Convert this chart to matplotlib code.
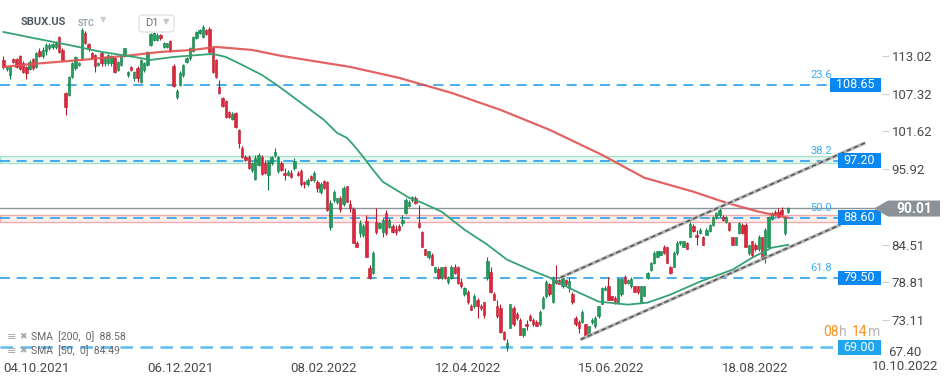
import matplotlib.pyplot as plt
import matplotlib.transforms as mtransforms
from matplotlib.patches import Rectangle, Polygon, FancyBboxPatch

plt.rcParams['font.family'] = ['Roboto', 'DejaVu Sans']

# daily candles SBUX.US, 20.09.2021 .. 01.09.2022
opens = [112.4, 111.1, 110.2, 112.6, 112.6, 113.0, 112.0, 111.4, 111.1, 112.6,
         111.4, 113.8, 113.0, 113.8, 114.2, 114.4, 114.4, 115.9, 113.9, 107.4,
         107.1, 109.9, 111.2, 111.7, 112.7, 116.5, 114.8, 113.5, 113.2, 111.7,
         113.5, 112.0, 112.0, 112.0, 112.7, 110.9, 111.7, 113.0, 110.2, 111.4,
         109.7, 111.2, 109.1, 110.9, 111.7, 114.7, 115.4, 115.4, 116.2, 114.4,
         114.4, 115.3, 111.5, 106.8, 108.6, 110.2, 112.1, 112.7, 113.8, 115.7,
         116.5, 115.9, 116.9, 117.1, 114.2, 112.4, 108.3, 106.7, 106.2, 104.6,
         103.5, 104.4, 101.9, 99.1, 97.8, 97.8, 95.8, 94.5, 96.6, 97.8,
         96.9, 95.1, 96.9, 98.1, 95.7, 96.9, 95.4, 95.1, 95.4, 96.1,
         95.4, 95.7, 94.0, 93.6, 94.9, 94.3, 94.0, 92.4, 94.2, 94.0,
         87.2, 91.3, 91.0, 91.5, 90.6, 93.3, 90.7, 89.9, 84.8, 86.3,
         86.0, 88.1, 81.0, 80.3, 88.0, 87.1, 86.5, 89.3, 87.2, 87.4,
         86.9, 87.4, 87.8, 89.3, 90.4, 91.2, 91.5, 87.8, 86.5, 83.8,
         82.6, 83.0, 80.4, 80.9, 79.7, 81.1, 78.9, 79.5, 81.2, 81.1,
         78.9, 77.0, 77.4, 75.3, 75.2, 76.1, 75.2, 75.8, 79.5, 80.4,
         77.1, 75.3, 74.9, 71.4, 69.1, 72.0, 75.0, 74.0, 73.2, 70.8,
         72.6, 73.8, 73.1, 72.9, 72.5, 75.0, 76.7, 78.6, 75.9, 79.2,
         79.2, 78.2, 79.2, 78.0, 77.1, 73.5, 72.8, 72.9, 72.5, 70.8,
         72.8, 72.2, 73.7, 75.6, 77.7, 78.3, 76.7, 76.5, 75.8, 77.0,
         79.7, 78.8, 78.3, 78.2, 78.2, 75.9, 76.8, 79.5, 80.7, 81.8,
         82.7, 83.0, 84.2, 84.1, 81.2, 81.2, 83.2, 84.7, 84.2, 84.8,
         85.7, 87.4, 86.0, 86.3, 85.7, 86.0, 86.6, 87.5, 88.6, 89.0,
         88.7, 88.0, 87.8, 85.6, 84.5, 86.3, 87.5, 87.5, 83.2, 85.0,
         84.5, 83.8, 85.6, 82.6, 84.2, 88.4, 89.5, 89.5, 89.8, 86.3,
         89.5]
highs = [113.0, 111.5, 111.5, 112.7, 112.7, 113.2, 112.3, 111.5, 112.4, 112.7,
         113.6, 114.2, 114.4, 115.0, 115.0, 115.0, 115.3, 116.0, 114.2, 107.6,
         110.0, 112.1, 113.0, 112.1, 117.2, 116.8, 115.0, 113.6, 113.3, 112.1,
         113.6, 113.0, 113.3, 113.2, 112.9, 112.3, 113.2, 114.2, 110.7, 111.5,
         110.7, 111.5, 112.6, 112.1, 113.8, 116.5, 116.6, 116.5, 116.3, 115.1,
         115.0, 115.4, 111.8, 108.0, 110.8, 111.8, 112.9, 114.4, 116.0, 116.8,
         117.1, 117.7, 117.1, 117.4, 114.4, 112.6, 109.4, 106.8, 106.4, 104.7,
         104.6, 104.6, 102.0, 99.4, 98.0, 98.0, 97.0, 98.1, 98.4, 98.1,
         97.3, 97.2, 97.9, 99.1, 97.9, 97.1, 96.1, 95.8, 95.8, 97.6,
         95.7, 95.9, 94.2, 94.6, 95.1, 95.6, 94.3, 94.0, 94.3, 94.2,
         91.3, 92.8, 91.6, 91.9, 93.3, 93.4, 91.3, 90.2, 85.0, 88.3,
         87.6, 89.0, 81.5, 83.5, 90.1, 88.0, 88.6, 89.8, 88.5, 87.7,
         87.5, 87.7, 89.0, 91.5, 91.2, 91.9, 91.8, 90.5, 86.6, 83.9,
         83.6, 83.3, 81.2, 81.1, 81.2, 81.3, 79.8, 81.5, 81.6, 81.3,
         79.5, 78.1, 77.7, 75.5, 77.0, 76.4, 75.5, 75.9, 82.7, 81.1,
         77.3, 76.2, 75.5, 71.5, 70.2, 75.6, 75.3, 74.4, 73.4, 71.9,
         73.2, 74.0, 73.4, 73.1, 74.6, 76.7, 79.2, 78.8, 79.8, 81.4,
         79.4, 79.8, 79.4, 79.5, 77.3, 73.7, 73.2, 74.6, 72.6, 72.3,
         73.4, 73.7, 75.3, 78.1, 78.2, 79.7, 76.8, 76.7, 79.5, 79.5,
         80.0, 79.4, 79.6, 78.3, 78.3, 78.3, 78.3, 80.4, 81.9, 83.5,
         83.6, 83.6, 84.4, 84.2, 81.3, 83.5, 85.0, 85.1, 85.1, 84.9,
         87.9, 87.6, 86.8, 87.0, 85.8, 87.0, 87.6, 88.9, 89.4, 90.1,
         89.0, 88.9, 88.0, 85.7, 85.7, 88.0, 87.8, 87.8, 84.5, 85.1,
         84.7, 85.9, 85.7, 87.1, 88.9, 89.5, 89.7, 90.1, 90.2, 88.9,
         90.2]
lows = [111.1, 110.8, 109.6, 112.0, 111.2, 110.9, 110.5, 109.6, 110.9, 110.9,
        111.2, 112.9, 112.7, 113.2, 113.9, 114.1, 114.1, 113.5, 112.4, 104.1,
        107.0, 109.7, 110.9, 111.5, 112.4, 114.8, 113.8, 112.6, 110.6, 111.5,
        111.5, 111.5, 111.7, 111.5, 110.5, 110.8, 111.5, 112.9, 109.9, 110.8,
        109.2, 109.1, 108.9, 110.6, 111.5, 114.5, 115.3, 115.3, 115.4, 114.2,
        114.2, 113.6, 108.3, 106.5, 108.4, 109.9, 111.9, 112.4, 113.6, 115.6,
        116.3, 115.7, 116.2, 113.5, 110.5, 109.7, 107.3, 105.3, 103.7, 103.7,
        103.3, 102.2, 99.1, 97.6, 97.2, 96.0, 95.5, 94.3, 96.4, 95.1,
        95.2, 92.8, 96.6, 97.8, 95.4, 95.6, 94.3, 94.9, 94.6, 95.8,
        94.9, 93.4, 93.1, 93.4, 94.2, 94.0, 92.5, 92.1, 92.9, 89.6,
        86.8, 91.0, 90.7, 89.5, 90.4, 90.9, 89.5, 84.7, 84.2, 85.7,
        85.7, 82.6, 79.4, 80.1, 86.1, 86.9, 85.7, 86.0, 87.0, 86.3,
        85.9, 86.6, 87.4, 89.1, 90.2, 90.9, 90.7, 87.1, 84.2, 82.9,
        82.3, 81.4, 80.2, 79.4, 79.4, 79.4, 78.6, 79.3, 80.1, 78.6,
        77.9, 76.8, 75.6, 74.6, 74.9, 73.5, 74.6, 73.4, 79.2, 77.2,
        76.1, 73.5, 71.2, 70.1, 68.4, 71.9, 72.2, 73.2, 70.8, 70.6,
        71.7, 73.0, 72.3, 72.2, 72.3, 74.8, 76.5, 76.8, 75.7, 78.5,
        78.5, 78.0, 78.3, 77.4, 75.6, 72.3, 71.2, 72.7, 70.6, 70.6,
        72.6, 71.9, 73.5, 75.5, 77.6, 76.1, 76.1, 75.6, 75.6, 76.8,
        78.6, 78.6, 78.0, 77.3, 77.1, 75.8, 76.7, 79.4, 80.6, 81.6,
        82.6, 82.9, 83.1, 81.7, 80.1, 81.1, 83.0, 84.5, 84.1, 83.8,
        85.6, 86.5, 84.4, 86.2, 84.4, 85.9, 86.5, 87.4, 88.4, 88.7,
        88.1, 87.8, 86.6, 84.4, 84.4, 86.2, 86.2, 84.1, 83.0, 82.7,
        83.6, 83.6, 82.4, 81.8, 84.0, 88.3, 88.8, 88.6, 88.8, 85.9,
        89.3]
closes = [111.4, 111.4, 111.4, 112.1, 111.4, 111.1, 110.6, 110.5, 112.1, 111.2,
          113.5, 113.0, 113.9, 114.7, 114.7, 114.8, 115.0, 113.6, 112.4, 105.3,
          109.9, 112.0, 112.9, 112.0, 116.9, 115.0, 114.1, 112.7, 111.5, 112.0,
          112.0, 112.9, 113.2, 113.0, 110.6, 112.1, 113.0, 114.2, 110.6, 110.9,
          110.6, 109.7, 112.4, 112.0, 113.6, 116.3, 116.5, 116.2, 115.7, 115.0,
          115.0, 113.8, 108.5, 107.7, 110.5, 111.7, 112.7, 114.2, 115.9, 116.6,
          116.9, 117.4, 116.3, 113.6, 110.6, 109.9, 107.4, 105.5, 103.8, 103.8,
          104.3, 102.3, 99.9, 97.8, 97.3, 96.1, 96.9, 97.6, 98.1, 95.2,
          95.4, 97.0, 97.8, 98.5, 97.8, 95.8, 95.1, 95.5, 94.8, 97.2,
          95.1, 93.6, 93.6, 94.3, 94.3, 95.4, 93.1, 93.6, 93.1, 89.8,
          90.8, 92.5, 91.5, 89.9, 93.1, 91.0, 90.1, 84.8, 84.2, 87.8,
          87.4, 82.7, 79.5, 83.3, 86.5, 87.8, 88.3, 86.3, 88.3, 86.5,
          86.5, 86.8, 88.3, 91.3, 91.0, 91.7, 90.8, 87.2, 84.2, 83.0,
          83.5, 81.5, 81.1, 79.5, 81.1, 79.5, 79.7, 81.2, 80.3, 78.8,
          78.2, 78.0, 75.8, 74.7, 76.7, 75.2, 74.9, 73.9, 82.0, 77.3,
          76.2, 73.7, 71.4, 70.2, 69.7, 75.5, 72.5, 73.5, 70.9, 71.9,
          72.2, 73.1, 72.5, 72.3, 74.4, 76.5, 78.9, 77.0, 79.5, 78.8,
          78.6, 79.5, 78.5, 79.1, 75.8, 72.5, 72.0, 74.4, 70.6, 72.2,
          73.2, 73.5, 75.2, 77.9, 78.0, 76.2, 76.2, 75.8, 79.4, 79.4,
          78.8, 79.2, 79.4, 77.4, 77.3, 78.2, 78.2, 80.3, 81.8, 83.3,
          83.5, 83.5, 83.2, 81.8, 80.3, 83.3, 84.8, 85.0, 85.0, 83.9,
          87.7, 86.6, 85.7, 86.8, 84.5, 86.8, 87.5, 88.7, 89.3, 89.8,
          88.3, 88.7, 86.8, 84.5, 85.6, 87.8, 86.3, 84.2, 84.4, 82.9,
          83.8, 85.7, 82.6, 86.8, 88.7, 89.3, 89.0, 88.7, 89.2, 88.6,
          90.0]

# moving averages (read at candle positions)
sma200_idx = [0, 9, 24, 40, 48, 58, 65, 76, 85, 106, 121, 137, 152, 167, 183, 196, 211, 221, 231, 240]
sma200_val = [111.36, 111.81, 112.41, 113.17, 113.62, 113.92, 114.37, 113.92, 113.02, 111.36,
              109.70, 107.44, 104.87, 101.86, 98.09, 94.62, 92.51, 90.85, 89.49, 88.58]
sma50_idx = [0, 9, 20, 30, 40, 45, 52, 60, 64, 68, 73, 79, 84, 91, 98, 102, 105, 107, 110, 113,
             116, 121, 124, 128, 134, 141, 148, 154, 161, 167, 174, 182, 191, 197, 204, 213, 223,
             229, 235, 240]
sma50_val = [116.63, 115.73, 114.67, 113.62, 112.86, 112.41, 112.86, 113.17, 113.32, 112.86,
             111.66, 110.15, 108.49, 105.93, 103.36, 101.40, 100.65, 99.59, 97.78, 95.82,
             94.01, 92.51, 91.60, 90.85, 89.49, 86.78, 84.51, 82.25, 80.74, 79.54,
             77.73, 75.92, 75.46, 75.76, 76.97, 78.93, 80.74, 82.55, 84.06, 84.49]

# fibonacci levels
fib_prices = [108.65, 97.20, 88.60, 79.50, 69.00]
fib_pcts = ['23.6', '38.2', '50.0', '61.8', '']
last_price = 90.01

# trend channel (start/end candle index and price)
chan_upper_idx = [170.3, 263.6]
chan_upper_val = [79.54, 99.90]
chan_lower_idx = [176.5, 256.0]
chan_lower_val = [70.19, 87.53]

date_pos = [10, 54, 98, 142, 186, 230]
date_labels = ['04.10.2021', '06.12.2021', '08.02.2022', '12.04.2022', '15.06.2022', '18.08.2022']
ytick_vals = [113.02, 107.32, 101.62, 95.92, 84.51, 78.81, 73.11]

W, H = 949, 384
fig = plt.figure(figsize=(W / 100, H / 100), dpi=100)
ax = fig.add_axes([0, 26 / H, 882 / W, 358 / H])
ax.set_xlim(-1.07, 268.7)
ax.set_ylim(67.40, 121.46)
for s in ax.spines.values():
    s.set_visible(False)

tr = mtransforms.blended_transform_factory(ax.transAxes, ax.transData)


def px(x, y):
    return x / W, 1 - y / H


# bands around 38.2 and 50.0
ax.add_patch(Rectangle((0, 96.9), 0.953, 0.95, transform=tr, fc='#e8f8f1', ec='#a6e2ca', lw=1, zorder=1))
ax.add_patch(Rectangle((0, 87.9), 0.953, 1.05, transform=tr, fc='#fdeeee', ec='#f2aaaa', lw=1, zorder=1))

# current price line
ax.axhline(last_price, color='#8d9499', lw=1, zorder=2)

# fib lines
for p, pct in zip(fib_prices, fib_pcts):
    if pct:
        ax.axhline(p, xmax=0.95, color='#2a9fea', lw=1.2, ls=(0, (6, 4)), zorder=2)
        ax.annotate(pct, xy=(0.931, p), xycoords=tr, xytext=(0, 7), textcoords='offset points',
                    ha='center', va='center', fontsize=8, color='#3aaaf0')
    else:
        ax.axhline(p, xmax=0.95, color='#5cbcf2', lw=1.8, ls=(0, (5, 3)), zorder=2)

# candles
for i in range(len(opens)):
    o, h, l, c = opens[i], highs[i], lows[i], closes[i]
    up = c >= o
    fc = '#1f9d5c' if up else '#e0263a'
    ec = '#117c45' if up else '#b5192b'
    ax.vlines(i, l, h, color=ec, lw=0.8, zorder=3)
    ax.bar(i, max(abs(c - o), 0.12), bottom=min(o, c), width=0.72, color=fc,
           edgecolor=ec, linewidth=0.4, zorder=4)

# moving averages
ax.plot(sma200_idx, sma200_val, color='#e05252', lw=1.6, alpha=0.9, zorder=5, solid_capstyle='round')
ax.plot(sma50_idx, sma50_val, color='#35a274', lw=1.3, zorder=5)

# channel
for xs, ys in [(chan_upper_idx, chan_upper_val), (chan_lower_idx, chan_lower_val)]:
    ax.plot(xs, ys, color='#b8b8b8', lw=2.4, zorder=6, solid_capstyle='butt')
    ax.plot(xs, ys, color='#555555', lw=1.1, ls=(0, (3, 2)), zorder=7)

# price boxes
for p, col in zip(fib_prices, ['#0a88f2', '#0a88f2', '#0a88f2', '#0a88f2', '#1ea5ec']):
    txt = f'{p:.2f}'
    wpx = 51 if len(txt) == 6 else 43
    ax.add_patch(Rectangle((881 / 882 - wpx / 882, p - 1.1), wpx / 882, 2.2, transform=tr,
                           fc=col, ec='none', zorder=8, clip_on=False))
    ax.text(881 / 882 - wpx / 1764, p, txt, transform=tr, ha='center', va='center',
            color='white', fontsize=9, zorder=9)

# last price arrow box
yp = 56 + (113.02 - last_price) * 6.63
poly = Polygon([px(874, yp), px(888, yp - 8), px(940, yp - 8), px(940, yp + 8), px(888, yp + 8)],
               closed=True, transform=fig.transFigure, fc='#8a9297', ec='none', zorder=10)
fig.patches.append(poly)
fig.text(*px(914, yp), f'{last_price:.2f}', ha='center', va='center', color='white',
         fontsize=10, fontweight='bold', zorder=11)

# axes ticks
ax.yaxis.tick_right()
ax.set_yticks(ytick_vals)
ax.set_yticklabels([f'{v:.2f}' for v in ytick_vals])
ax.tick_params(axis='y', length=5, color='#cfcfcf', pad=2, labelsize=9.5, labelcolor='#4a4a4a')
fig.text(*px(888, 353), '67.40', ha='left', va='center', fontsize=9.5, color='#4a4a4a')
ax.set_xticks(date_pos)
ax.set_xticklabels(date_labels)
ax.tick_params(axis='x', length=0, pad=3, labelsize=9.5, labelcolor='#4a4a4a')
fig.text(*px(905, 367), '10.10.2022', ha='center', va='center', fontsize=9.5, color='#4a4a4a')

# countdown "08h 14m", pieces placed one after another
renderer = fig.canvas.get_renderer()
cx = 823
for piece, col in [('08', '#f7931e'), ('h', '#b5b5b5'), ('14', '#f7931e'), ('m', '#b5b5b5')]:
    t = fig.text(*px(cx, 336.5), piece, ha='left', va='baseline', fontsize=10, color=col)
    cx += t.get_window_extent(renderer).width + (5 if piece == 'h' else 0.5)

# header
fig.text(*px(21, 22), 'SBUX.US', ha='left', va='center', fontsize=8, fontweight='bold', color='#525a63')
fig.text(*px(78, 23), 'STC', ha='left', va='center', fontsize=6.5, fontweight='bold', color='#98a3ad')
fig.text(*px(103, 20), '▼', ha='center', va='center', fontsize=6, color='#c8cdd2', family='DejaVu Sans')
x0, y0 = px(139, 32)
x1, y1 = px(174, 15)
fig.patches.append(FancyBboxPatch((x0, y0), x1 - x0, y1 - y0, boxstyle='round,pad=0,rounding_size=0.006',
                                  transform=fig.transFigure, fc='white', ec='#dfe3e6', lw=1))
fig.text(*px(145, 23), 'D1', ha='left', va='center', fontsize=8, color='#6b7680')
fig.text(*px(166, 22), '▼', ha='center', va='center', fontsize=6, color='#c0c5ca', family='DejaVu Sans')

# indicator legend
for yy, lab in [(337, 'SMA  [200,  0]  88.58'), (351, 'SMA  [50,  0]  84.49')]:
    fig.text(*px(7, yy), '≡', ha='left', va='center', fontsize=8, color='#a0a6ab', family='DejaVu Sans')
    fig.text(*px(19, yy), '✖', ha='left', va='center', fontsize=6.5, color='#a0a6ab', family='DejaVu Sans')
    fig.text(*px(31, yy), lab, ha='left', va='center', fontsize=7.5, color='#666666')

fig.savefig('out.png', dpi=100)
